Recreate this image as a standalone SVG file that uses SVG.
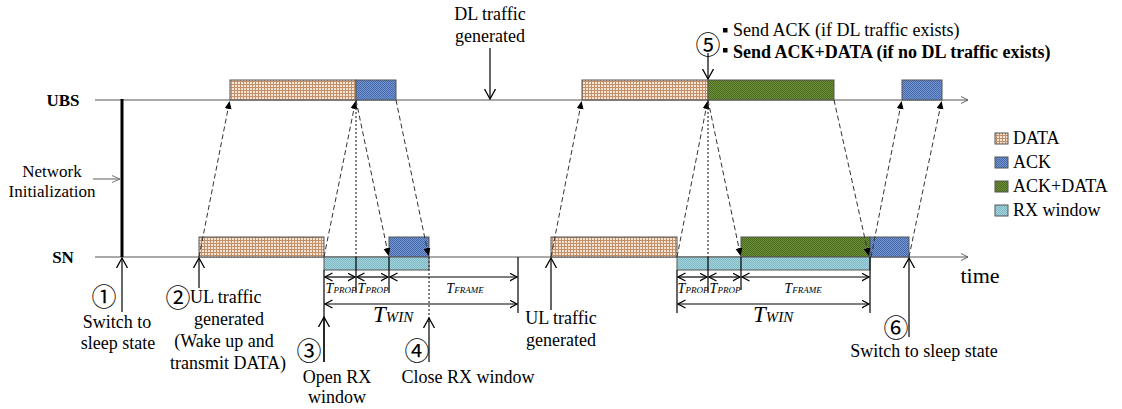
<svg xmlns="http://www.w3.org/2000/svg" width="1122" height="409" viewBox="0 0 1122 409">
<defs>
<pattern id="pData" width="3" height="3" patternUnits="userSpaceOnUse"><rect width="3" height="3" fill="#f8e4d2"/><path d="M0 0.5H3M0.5 0V3" stroke="#c3906c" stroke-width="1"/></pattern>
<pattern id="pAck" width="2" height="2" patternUnits="userSpaceOnUse"><rect width="2" height="2" fill="#7597d4"/><rect width="1" height="1" fill="#4467a8"/><rect x="1" y="1" width="1" height="1" fill="#4467a8"/></pattern>
<pattern id="pAD" width="2" height="2" patternUnits="userSpaceOnUse"><rect width="2" height="2" fill="#6e903a"/><rect width="1" height="1" fill="#4a6a1f"/><rect x="1" y="1" width="1" height="1" fill="#4a6a1f"/></pattern>
<pattern id="pRX" width="2" height="2" patternUnits="userSpaceOnUse"><rect width="2" height="2" fill="#a3d4dc"/><rect width="1" height="1" fill="#7db8c4"/><rect x="1" y="1" width="1" height="1" fill="#7db8c4"/></pattern>
<marker id="fa" markerUnits="userSpaceOnUse" markerWidth="9" markerHeight="8" refX="8" refY="3.5" orient="auto"><path d="M0,0 L8,3.5 L0,7 z" fill="#000"/></marker>
<marker id="ov" markerUnits="userSpaceOnUse" markerWidth="12" markerHeight="14" refX="10" refY="6" orient="auto"><path d="M0,0.5 L10,6 L0,11.5" fill="none" stroke="#000" stroke-width="1.3"/></marker>
<marker id="os" markerUnits="userSpaceOnUse" markerWidth="9" markerHeight="10" refX="7.5" refY="4.5" orient="auto-start-reverse"><path d="M0,0.5 L7.5,4.5 L0,8.5" fill="none" stroke="#000" stroke-width="1.2"/></marker>
<marker id="axh" markerUnits="userSpaceOnUse" markerWidth="9" markerHeight="9" refX="7" refY="4" orient="auto"><path d="M0,0.5 L7,4 L0,7.5" fill="none" stroke="#555" stroke-width="0.9"/></marker>
<marker id="ga" markerUnits="userSpaceOnUse" markerWidth="10" markerHeight="10" refX="8" refY="4" orient="auto"><path d="M0,0.5 L8,4 L0,7.5" fill="none" stroke="#777" stroke-width="1"/></marker>
</defs>
<style>
text{font-family:"Liberation Serif","Noto Sans CJK SC",serif;fill:#000}
.l{font-size:18px}
.m{text-anchor:middle}
.b{font-weight:bold}
.n{font-size:25px;font-family:"Noto Sans CJK SC","DejaVu Sans",sans-serif;text-anchor:middle}
.t{font-style:italic}
.box{stroke:#555;stroke-width:1}
.ln{stroke:#000;stroke-width:1.2;fill:none}
.ax{stroke:#555;stroke-width:1;fill:none}
.da{stroke:#333;stroke-width:1;stroke-dasharray:5 3;fill:none}
.dt{stroke:#333;stroke-width:1.2;stroke-dasharray:2 2;fill:none}
</style>
<rect width="1122" height="409" fill="#fff"/>

<g id="axes">
<line class="ax" x1="95" y1="100" x2="968" y2="100" marker-end="url(#axh)"/>
<line class="ax" x1="95" y1="257" x2="968" y2="257" marker-end="url(#axh)"/>
<text class="l b m" x="63" y="106" style="font-size:17px">UBS</text>
<text class="l b m" x="63" y="263" style="font-size:17px">SN</text>
<text class="m" x="980" y="283" style="font-size:22px">time</text>
</g>

<g id="init">
<line x1="122" y1="99" x2="122" y2="257" stroke="#000" stroke-width="3"/>
<text class="m" x="52" y="177" style="font-size:17px">Network</text>
<text class="m" x="52" y="197" style="font-size:17px">Initialization</text>
</g>

<g id="ubs-boxes">
<rect class="box" x="230" y="80" width="126" height="20" fill="url(#pData)"/>
<rect class="box" x="356" y="80" width="40" height="20" fill="url(#pAck)"/>
<rect class="box" x="582" y="80" width="126" height="20" fill="url(#pData)"/>
<rect class="box" x="708" y="80" width="126" height="20" fill="url(#pAD)"/>
<rect class="box" x="902" y="80" width="40" height="20" fill="url(#pAck)"/>
</g>

<g id="sn-boxes">
<rect class="box" x="199" y="237" width="125" height="20" fill="url(#pData)"/>
<rect class="box" x="389" y="237" width="40" height="20" fill="url(#pAck)"/>
<rect class="box" x="324" y="257" width="105" height="13" fill="url(#pRX)"/>
<rect class="box" x="551" y="237" width="126" height="20" fill="url(#pData)"/>
<rect class="box" x="741" y="237" width="129" height="20" fill="url(#pAD)"/>
<rect class="box" x="870" y="237" width="39" height="20" fill="url(#pAck)"/>
<rect class="box" x="677" y="257" width="193" height="13" fill="url(#pRX)"/>
</g>

<g id="connectors">
<line class="da" x1="199" y1="257" x2="229.6" y2="101" marker-end="url(#fa)"/>
<line class="da" x1="324" y1="257" x2="355.6" y2="101" marker-end="url(#fa)"/>
<line class="da" x1="356" y1="100" x2="388.6" y2="256" marker-end="url(#fa)"/>
<line class="da" x1="396" y1="100" x2="428.6" y2="256" marker-end="url(#fa)"/>
<line class="dt" x1="356" y1="100" x2="356" y2="257"/>
<line class="da" x1="551" y1="257" x2="581.6" y2="101" marker-end="url(#fa)"/>
<line class="da" x1="677" y1="257" x2="707.6" y2="101" marker-end="url(#fa)"/>
<line class="dt" x1="708" y1="100" x2="708" y2="257"/>
<line class="da" x1="708" y1="100" x2="740.6" y2="256" marker-end="url(#fa)"/>
<line class="da" x1="834" y1="100" x2="868.8" y2="256" marker-end="url(#fa)"/>
<line class="da" x1="871" y1="257" x2="901.6" y2="101" marker-end="url(#fa)"/>
<line class="da" x1="909" y1="257" x2="941.6" y2="101" marker-end="url(#fa)"/>

<line class="ln" x1="93" y1="179" x2="120" y2="179" style="stroke:#777" marker-end="url(#ga)"/>
<line class="ln" x1="490" y1="48" x2="490" y2="99" marker-end="url(#ov)"/>
<line class="ln" x1="708" y1="53" x2="708" y2="79" marker-end="url(#ov)"/>
<line class="ln" x1="122" y1="312" x2="122" y2="258" marker-end="url(#ov)"/>
<line class="ln" x1="199" y1="288" x2="199" y2="258" marker-end="url(#ov)"/>
<line class="ln" x1="324" y1="270" x2="324" y2="362"/>
<line class="ln" x1="324" y1="362" x2="324" y2="317" marker-end="url(#ov)"/>
<line class="dt" x1="429" y1="257" x2="429" y2="322"/>
<line class="ln" x1="429" y1="362" x2="429" y2="318" marker-end="url(#ov)"/>
<line class="ln" x1="551" y1="310" x2="551" y2="258" marker-end="url(#ov)"/>
<line class="ln" x1="909" y1="337" x2="909" y2="258" marker-end="url(#ov)"/>

<line class="ln" x1="518" y1="257" x2="518" y2="313"/>
<line class="ln" x1="356" y1="257" x2="356" y2="293"/>
<line class="ln" x1="389" y1="257" x2="389" y2="293"/>
<line class="ln" x1="677" y1="270" x2="677" y2="313"/>
<line class="ln" x1="708" y1="257" x2="708" y2="293"/>
<line class="ln" x1="741" y1="257" x2="741" y2="290"/>
<line class="ln" x1="870" y1="257" x2="870" y2="313"/>

<line class="ln" x1="325" y1="277" x2="355" y2="277" marker-start="url(#os)" marker-end="url(#os)"/>
<line class="ln" x1="357" y1="277" x2="388" y2="277" marker-start="url(#os)" marker-end="url(#os)"/>
<line class="ln" x1="390" y1="277" x2="517" y2="277" marker-start="url(#os)" marker-end="url(#os)"/>
<line class="ln" x1="325" y1="304" x2="517" y2="304" marker-start="url(#os)" marker-end="url(#os)"/>
<line class="ln" x1="678" y1="277" x2="707" y2="277" marker-start="url(#os)" marker-end="url(#os)"/>
<line class="ln" x1="709" y1="277" x2="740" y2="277" marker-start="url(#os)" marker-end="url(#os)"/>
<line class="ln" x1="742" y1="277" x2="869" y2="277" marker-start="url(#os)" marker-end="url(#os)"/>
<line class="ln" x1="678" y1="304" x2="869" y2="304" marker-start="url(#os)" marker-end="url(#os)"/>
</g>

<g id="time-labels">
<text class="t m" x="341" y="293" style="font-size:14px">T<tspan style="font-size:9px">PROP</tspan></text>
<text class="t m" x="373" y="293" style="font-size:14px">T<tspan style="font-size:9px">PROP</tspan></text>
<text class="t m" x="465" y="293" style="font-size:14px">T<tspan style="font-size:9px">FRAME</tspan></text>
<text class="t" x="373" y="322" style="font-size:23px">T<tspan style="font-size:15px">WIN</tspan></text>
<text class="t m" x="693" y="293" style="font-size:14px">T<tspan style="font-size:9px">PROP</tspan></text>
<text class="t m" x="725" y="293" style="font-size:14px">T<tspan style="font-size:9px">PROP</tspan></text>
<text class="t m" x="803" y="293" style="font-size:14px">T<tspan style="font-size:9px">FRAME</tspan></text>
<text class="t" x="753" y="322" style="font-size:23px">T<tspan style="font-size:15px">WIN</tspan></text>
</g>

<g id="ev1">
<text class="n" x="104" y="306">①</text>
<text class="l m" x="117" y="328">Switch to</text>
<text class="l m" x="118" y="349">sleep state</text>
</g>
<g id="ev2">
<text class="n" x="178" y="307">②</text>
<text class="l" x="190" y="303">UL traffic</text>
<text class="l m" x="229" y="325">generated</text>
<text class="l m" x="224" y="347">(Wake up and</text>
<text class="l m" x="228" y="369">transmit DATA)</text>
</g>
<g id="ev3">
<text class="n" x="309" y="360">③</text>
<text class="l m" x="337" y="383">Open RX</text>
<text class="l m" x="337" y="403">window</text>
</g>
<g id="ev4">
<text class="n" x="417" y="360">④</text>
<text class="l m" x="468" y="383">Close RX window</text>
</g>
<g id="ul2">
<text class="l m" x="561" y="324">UL traffic</text>
<text class="l m" x="561" y="346">generated</text>
</g>
<g id="dl">
<text class="l m" x="490" y="20">DL traffic</text>
<text class="l m" x="490" y="42">generated</text>
</g>
<g id="ev5">
<text class="n" x="708" y="54">⑤</text>
<rect x="723" y="28" width="4.5" height="4.5" fill="#000"/>
<text class="l" x="733" y="36">Send ACK (if DL traffic exists)</text>
<rect x="723" y="48" width="4.5" height="4.5" fill="#000"/>
<text class="l b" x="733" y="58">Send ACK+DATA (if no DL traffic exists)</text>
</g>
<g id="ev6">
<text class="n" x="896" y="337">⑥</text>
<text class="l m" x="924" y="357">Switch to sleep state</text>
</g>

<g id="legend">
<rect class="box" x="995" y="133" width="13" height="11" fill="url(#pData)"/>
<text class="l" x="1013" y="144">DATA</text>
<rect class="box" x="995" y="157" width="13" height="11" fill="url(#pAck)"/>
<text class="l" x="1013" y="168">ACK</text>
<rect class="box" x="995" y="181" width="13" height="11" fill="url(#pAD)"/>
<text class="l" x="1013" y="192">ACK+DATA</text>
<rect class="box" x="995" y="205" width="13" height="11" fill="url(#pRX)"/>
<text class="l" x="1013" y="216">RX window</text>
</g>
</svg>
